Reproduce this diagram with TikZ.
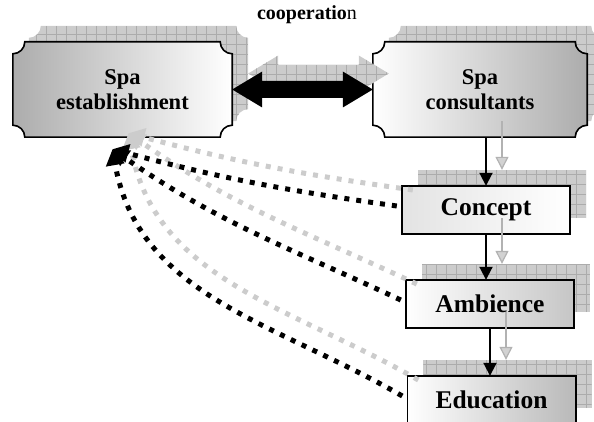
\documentclass[tikz,border=0pt]{standalone}
\usepackage{fontspec}
\setmainfont{Liberation Serif}
\usetikzlibrary{arrows.meta,calc,backgrounds}

% concave-cornered box drawn round a node
\newcommand{\plaque}[2][]{%
  \path[#1] ([xshift=12pt]#2.north west) -- ([xshift=-12pt]#2.north east)
    arc[start angle=180,end angle=270,radius=12pt] -- ([yshift=12pt]#2.south east)
    arc[start angle=90,end angle=180,radius=12pt] -- ([xshift=12pt]#2.south west)
    arc[start angle=0,end angle=90,radius=12pt] -- ([yshift=-12pt]#2.north west)
    arc[start angle=270,end angle=360,radius=12pt] -- cycle;}
% double arrow between the two partners
\newcommand{\cooparrow}{(est.east) -- ++(30,18) -- ++(0,-9.5) -- ($(cons.west)+(-30,8.5)$)
  -- ++(0,9.5) -- (cons.west) -- ++(-30,-18) -- ++(0,9.5) -- ($(est.east)+(30,-8.5)$)
  -- ++(0,-9.5) -- cycle}

\tikzset{
  box/.style={minimum width=168pt,minimum height=48pt,inner sep=0pt,
    font=\fontsize{25.5}{26}\selectfont\bfseries},
  bigbox/.style={box,minimum width=219pt,minimum height=95pt,align=center,
    font=\fontsize{22.5}{25}\selectfont\bfseries},
  shadowgrid/.style={fill=gray!40,path picture={
    \draw[gray!65,line width=0.5pt,step=10pt] (path picture bounding box.south west)
      grid (path picture bounding box.north east);}},
  shift shadow/.style={transform canvas={shift={(16pt,16pt)}}},
  flow/.style={line width=2pt,-{Triangle[length=13pt,width=13pt]}},
  flowshadow/.style={line width=1.2pt,gray!60,-{Triangle[length=13pt,width=13pt,fill=gray!35]}},
  feedback/.style={line width=5pt,dash pattern=on 5pt off 7pt,-{Triangle[length=16pt,width=18pt]}},
  feedbackshadow/.style={feedback,gray!40}
}

\begin{document}
\begin{tikzpicture}[x=1pt,y=1pt]
  \path[use as bounding box] (0,0) rectangle (594,-422);

  % partners
  \node[bigbox] (est) at (122.5,-89.5) {Spa\\establishment};
  \node[bigbox,minimum width=214pt] (cons) at (480,-89.5) {Spa\\consultants};
  \node[font=\fontsize{20}{22}\selectfont] (coop) at (307,-15) {\textbf{cooperatio}n};

  % services
  \node[box] (concept) at (486,-210) {Concept};
  \node[box] (ambience) at (490,-304) {Ambience};
  \node[box] (education) at (491.5,-400) {Education};

  % shadows and fills behind the texts
  \begin{scope}[on background layer]
    \begin{scope}[shift shadow]
      \plaque[shadowgrid]{est}
      \plaque[shadowgrid]{cons}
      \path[shadowgrid] (concept.south west) rectangle (concept.north east);
      \path[shadowgrid] (ambience.south west) rectangle (ambience.north east);
      \path[shadowgrid] (education.south west) rectangle (education.north east);
    \end{scope}
    \plaque[draw,line width=1.6pt,left color=gray!65,right color=white]{est}
    \plaque[draw,line width=1.6pt,left color=white,right color=gray!65]{cons}
    \draw[line width=1.6pt,left color=gray!22,right color=white] (concept.south west) rectangle (concept.north east);
    \draw[line width=1.6pt,left color=white,right color=gray!45] (ambience.south west) rectangle (ambience.north east);
    \draw[line width=1.6pt,left color=white,right color=gray!55] (education.south west) rectangle (education.north east);
  \end{scope}

  % cooperation arrow
  \begin{scope}[shift shadow]
    \path[shadowgrid] \cooparrow;
  \end{scope}
  \fill \cooparrow;

  % consultants -> services
  \begin{scope}[shift shadow]
    \draw[flowshadow] (concept.north |- cons.south) -- (concept.north);
    \draw[flowshadow] (concept.south) -- (concept.south |- ambience.north);
    \draw[flowshadow] (ambience.south) -- (ambience.south |- education.north);
  \end{scope}
  \draw[flow] (concept.north |- cons.south) -- (concept.north);
  \draw[flow] (concept.south) -- (concept.south |- ambience.north);
  \draw[flow] (ambience.south) -- (ambience.south |- education.north);

  % services -> establishment
  \coordinate (hub) at ([shift={(-10,-12)}]est.south);
  \begin{scope}[shift shadow]
    \draw[feedbackshadow] ([shift={(-5,4)}]concept.west) to[out=172,in=-15] (hub);
    \draw[feedbackshadow] ([shift={(-5,4)}]ambience.west) to[out=155,in=-35] (hub);
    \draw[feedbackshadow] ([shift={(-5,4)}]education.west) to[out=150,in=-80] (hub);
  \end{scope}
  \draw[feedback] ([shift={(-5,4)}]concept.west) to[out=172,in=-15] (hub);
  \draw[feedback] ([shift={(-5,4)}]ambience.west) to[out=155,in=-35] (hub);
  \draw[feedback] ([shift={(-5,4)}]education.west) to[out=150,in=-80] (hub);
\end{tikzpicture}
\end{document}
